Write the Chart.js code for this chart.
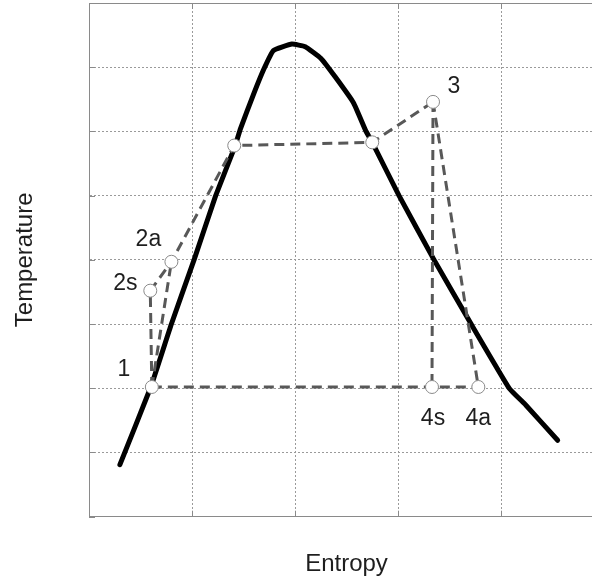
<!DOCTYPE html>
<html>
<head>
<meta charset="utf-8">
<script src="https://cdn.jsdelivr.net/npm/chart.js@4/dist/chart.umd.min.js"></script>
<style>
  html, body { margin: 0; padding: 0; background: #fff; overflow: hidden; }
  /* the original figure is cropped on the right, so the canvas runs past the window */
  #wrap { width: 604px; height: 579px; }
</style>
</head>
<body>
<div id="wrap"><canvas id="tsChart"></canvas></div>
<script>
// Saturation dome (entropy / temperature, arbitrary units)
const domeS = [0.30, 0.60, 0.80, 1.02, 1.23, 1.42, 1.47, 1.60, 1.70, 1.79, 1.97, 2.10, 2.25, 2.39, 2.57, 2.69, 2.75, 3.01, 3.35, 3.71, 4.08, 4.24, 4.55];
const domeT = [0.81, 2.02, 3.00, 4.00, 5.00, 5.78, 6.04, 6.59, 6.98, 7.26, 7.36, 7.32, 7.14, 6.85, 6.44, 6.00, 5.83, 5.00, 4.00, 3.00, 2.00, 1.74, 1.19];

// Cycle states
const stateNames = ['1', '2s', '2a', '', '', '3', '4s', '4a'];
const stateS = [0.61, 0.595, 0.80, 1.41, 2.75, 3.34, 3.33, 3.78];
const stateT = [2.02, 3.52, 3.97, 5.78, 5.83, 6.46, 2.02, 2.02];

// Dashed process lines, as lists of state indices
const processPaths = [
    [1, 2, 3, 4, 5],
    [0, 1],
    [0, 2],
    [5, 6],
    [5, 7],
    [0, 6, 7]
];

// Axis grid ticks
const sTicks = [0, 1, 2, 3, 4, 5];
const tTicks = [0, 1, 2, 3, 4, 5, 6, 7, 8];

const axisTitles = { x: 'Entropy', y: 'Temperature' };

const FONT = "'Liberation Sans', Arial, sans-serif";

function statePoint(i) {
    return { x: stateS[i], y: stateT[i] };
}

const datasets = [];

datasets.push({
    label: 'dome',
    data: domeS.map((s, i) => ({ x: s, y: domeT[i] })),
    borderColor: '#000',
    borderWidth: 5,
    pointRadius: 0,
    tension: 0.1,
    borderCapStyle: 'round',
    borderJoinStyle: 'round',
    order: 3
});

processPaths.forEach(path => {
    datasets.push({
        label: 'process',
        data: path.map(statePoint),
        borderColor: '#585858',
        borderWidth: 3,
        borderDash: [10, 6],
        pointRadius: 0,
        tension: 0,
        order: 2
    });
});

datasets.push({
    label: 'states',
    data: stateS.map((s, i) => statePoint(i)),
    showLine: false,
    pointRadius: 6.5,
    pointBackgroundColor: '#fff',
    pointBorderColor: '#8a8a8a',
    pointBorderWidth: 1,
    order: 0
});

// pixel offsets of the state labels from their markers
const labelOffsets = {
    '1': [-28, -17],
    '2s': [-25, -7],
    '2a': [-23, -22],
    '3': [21, -15],
    '4s': [1, 32],
    '4a': [0, 32]
};

const stateLabelPlugin = {
    id: 'stateLabels',
    afterDatasetsDraw(chart) {
        const ctx = chart.ctx;
        const xs = chart.scales.x, ys = chart.scales.y;
        ctx.save();
        ctx.font = '23px ' + FONT;
        ctx.fillStyle = '#1e1e1e';
        ctx.textAlign = 'center';
        ctx.textBaseline = 'middle';
        stateNames.forEach((name, i) => {
            if (!name) return;
            const off = labelOffsets[name] || [0, 0];
            ctx.fillText(name, xs.getPixelForValue(stateS[i]) + off[0], ys.getPixelForValue(stateT[i]) + off[1]);
        });
        ctx.restore();
    }
};

// short tick marks pointing into the plot, plus the top frame line
const innerTicksPlugin = {
    id: 'innerTicks',
    afterDraw(chart) {
        const ctx = chart.ctx;
        const a = chart.chartArea;
        const xs = chart.scales.x, ys = chart.scales.y;
        const len = 6;
        ctx.save();
        ctx.strokeStyle = '#8a8a8a';
        ctx.lineWidth = 1;
        ctx.beginPath();
        ctx.moveTo(a.left, Math.round(a.top) + 0.5);
        ctx.lineTo(a.right, Math.round(a.top) + 0.5);
        sTicks.forEach(v => {
            const px = Math.round(xs.getPixelForValue(v)) + 0.5;
            ctx.moveTo(px, a.bottom);
            ctx.lineTo(px, a.bottom - len);
            ctx.moveTo(px, a.top);
            ctx.lineTo(px, a.top + len);
        });
        tTicks.forEach(v => {
            const py = Math.round(ys.getPixelForValue(v)) + 0.5;
            ctx.moveTo(a.left, py);
            ctx.lineTo(a.left + len, py);
        });
        ctx.stroke();
        ctx.restore();
    }
};

const gridStyle = {
    color: '#9a9a9a',
    lineWidth: 1,
    drawTicks: false
};

const ctx = document.getElementById('tsChart').getContext('2d');
new Chart(ctx, {
    type: 'line',
    data: { datasets },
    plugins: [stateLabelPlugin, innerTicksPlugin],
    options: {
        responsive: true,
        maintainAspectRatio: false,
        animation: false,
        layout: { autoPadding: false, padding: { top: 3, left: 0, right: 0, bottom: 0 } },
        plugins: {
            legend: { display: false },
            tooltip: { enabled: false }
        },
        scales: {
            x: {
                type: 'linear',
                min: sTicks[0],
                max: sTicks[sTicks.length - 1],
                afterBuildTicks: axis => { axis.ticks = sTicks.map(v => ({ value: v })); },
                ticks: { display: false },
                grid: gridStyle,
                border: { display: true, color: '#8a8a8a', width: 1, dash: [2, 2] },
                title: {
                    display: true,
                    text: axisTitles.x,
                    font: { family: FONT, size: 24 },
                    color: '#1e1e1e',
                    padding: { top: 32.9, bottom: 0.6 }
                }
            },
            y: {
                type: 'linear',
                min: tTicks[0],
                max: tTicks[tTicks.length - 1],
                afterBuildTicks: axis => { axis.ticks = tTicks.map(v => ({ value: v })); },
                ticks: { display: false },
                grid: gridStyle,
                border: { display: true, color: '#8a8a8a', width: 1, dash: [2, 2] },
                title: {
                    display: true,
                    text: axisTitles.y,
                    font: { family: FONT, size: 24 },
                    color: '#1e1e1e',
                    padding: { top: 10.6, bottom: 49.6 }
                }
            }
        }
    }
});
</script>
</body>
</html>
